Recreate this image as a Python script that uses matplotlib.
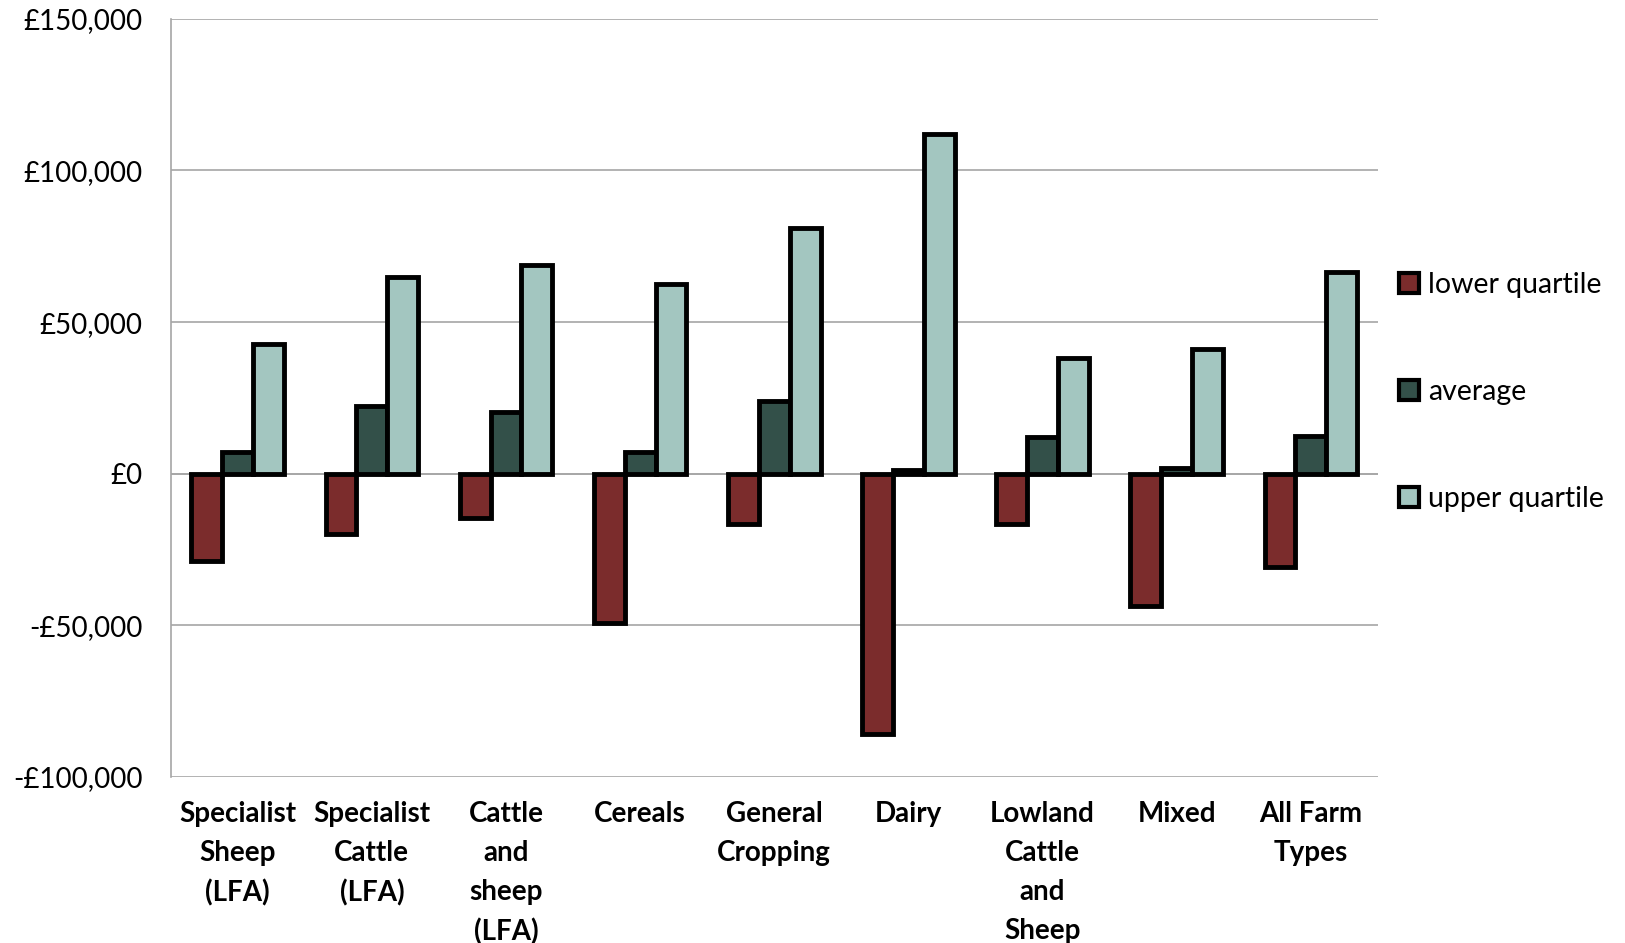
import matplotlib
matplotlib.use("Agg")
import matplotlib.pyplot as plt
from matplotlib.ticker import FuncFormatter
import numpy as np

plt.rcParams['font.family'] = ['Lato', 'DejaVu Sans']

# Farm business income by farm type
categories = ['Specialist\nSheep\n(LFA)', 'Specialist\nCattle\n(LFA)', 'Cattle\nand\nsheep\n(LFA)',
              'Cereals', 'General\nCropping', 'Dairy', 'Lowland\nCattle\nand\nSheep', 'Mixed',
              'All Farm\nTypes']
lower_quartile = [-28700, -19800, -14700, -49200, -16700, -85700, -16700, -43700, -30700]
average = [7200, 22500, 20500, 7200, 23900, 1400, 12000, 2000, 12600]
upper_quartile = [42700, 64900, 69000, 62500, 80900, 112000, 38300, 41000, 66600]

series = [('lower quartile', lower_quartile, '#7B2C2C'),
          ('average', average, '#335049'),
          ('upper quartile', upper_quartile, '#A3C6C0')]

fig = plt.figure(figsize=(16.25, 9.43), dpi=100)
ax = fig.add_axes([0.105, 0.176, 0.743, 0.804])

x = np.arange(len(categories))
w = 0.23
for i, (name, vals, col) in enumerate(series):
    ax.bar(x + (i - 1) * w, vals, w, color=col, edgecolor='black', linewidth=3.5,
           label=name, zorder=3)

ax.set_ylim(-100000, 150000)
ax.set_yticks(np.arange(-100000, 150001, 50000))
ax.yaxis.set_major_formatter(FuncFormatter(
    lambda v, p: ('-£{:,.0f}'.format(-v) if v < 0 else '£{:,.0f}'.format(v))))
ax.set_xlim(-0.5, len(categories) - 0.5)
ax.set_xticks(x)
ax.set_xticklabels(categories, fontweight='bold', linespacing=1.62, va='top')
ax.tick_params(axis='x', length=0, labelsize=20, pad=17)
ax.tick_params(axis='y', length=0, labelsize=20, pad=20)

ax.grid(axis='y', color='#A6A6A6', linewidth=1.2, zorder=0)
for s in ['top', 'right', 'bottom']:
    ax.spines[s].set_visible(False)
ax.spines['left'].set_color('#A6A6A6')
ax.spines['left'].set_linewidth(1.2)
ax.axhline(0, color='#A6A6A6', linewidth=1.2, zorder=1)

leg = ax.legend(loc='center left', bbox_to_anchor=(1.0, 0.508), frameon=False,
                fontsize=20.5, handlelength=0.7, handleheight=0.7,
                handletextpad=0.3, labelspacing=2.85, borderaxespad=0.35)
for h in leg.legend_handles:
    h.set_linewidth(3)

fig.savefig('out.png', dpi=100)
